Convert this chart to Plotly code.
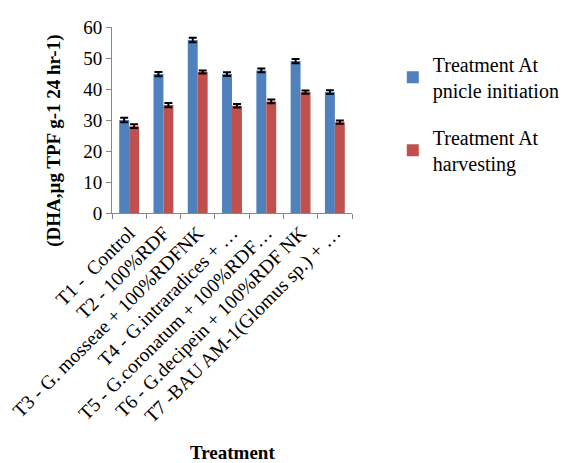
import plotly.graph_objects as go

categories = ["T1 -  Control", "T2 - 100%RDF", "T3 - G. mosseae + 100%RDFNK",
              "T4 - G.intraradices + …", "T5 - G.coronatum + 100%RDF…",
              "T6 - G.decipein + 100%RDF NK", "T7 -BAU AM-1(Glomus sp.) + …"]
panicle = [30.0, 44.8, 55.8, 44.8, 46.0, 49.0, 39.0]
panicle_err = [0.7, 0.7, 0.7, 0.6, 0.6, 0.7, 0.6]
harvest = [28.0, 34.8, 45.5, 34.6, 36.0, 39.0, 29.3]
harvest_err = [0.6, 0.7, 0.5, 0.6, 0.6, 0.5, 0.5]
series_names = ["Treatment At<br>pnicle initiation", "Treatment At<br>harvesting"]
y_title = "(DHA,µg TPF g-1 24 hr-1)"
x_title = "Treatment"

font = "Liberation Serif"
fig = go.Figure()
fig.add_trace(go.Bar(x=categories, y=panicle, name=series_names[0], legendgroup="a",
                     marker=dict(color="#4F81BD", line=dict(width=0)),
                     error_y=dict(type="data", array=panicle_err, color="black", thickness=2, width=4)))
fig.add_trace(go.Bar(x=categories, y=harvest, name=series_names[1], legendgroup="b",
                     marker=dict(color="#C0504D", line=dict(width=0)),
                     error_y=dict(type="data", array=harvest_err, color="black", thickness=2, width=4)))

fig.update_layout(
    width=569, height=455,
    margin=dict(l=104, r=194, t=19, b=250),
    paper_bgcolor="white", plot_bgcolor="white",
    barmode="group", bargap=0.42, bargroupgap=0,
    font=dict(family=font, size=18, color="black"),
    showlegend=True,
    legend=dict(x=1.17, y=0.905, xanchor="left", yanchor="top",
                font=dict(family=font, size=20, color="black"), tracegroupgap=18,
                itemwidth=30),
    xaxis=dict(tickangle=-45, showline=True, linecolor="#888888", linewidth=1,
               ticks="outside", tickson="boundaries", ticklen=5, tickcolor="#888888",
               showgrid=False, tickfont=dict(family=font, size=19.5), automargin=False),
    yaxis=dict(range=[0, 60], dtick=10, showline=True, linecolor="#888888", linewidth=1,
               ticks="outside", ticklen=5, tickcolor="#888888", showgrid=False, zeroline=False,
               tickfont=dict(family=font, size=19), automargin=False),
    annotations=[
        dict(text="<b>" + y_title + "</b>", textangle=-90, xref="paper", yref="paper",
             x=-0.24, y=0.39, xanchor="center", yanchor="middle", showarrow=False,
             font=dict(family=font, size=19, color="black")),
        dict(text="<b>" + x_title + "</b>", xref="paper", yref="paper",
             x=0.5, y=-1.29, xanchor="center", yanchor="middle", showarrow=False,
             font=dict(family=font, size=19, color="black")),
    ],
)
fig.write_html("out.html")
